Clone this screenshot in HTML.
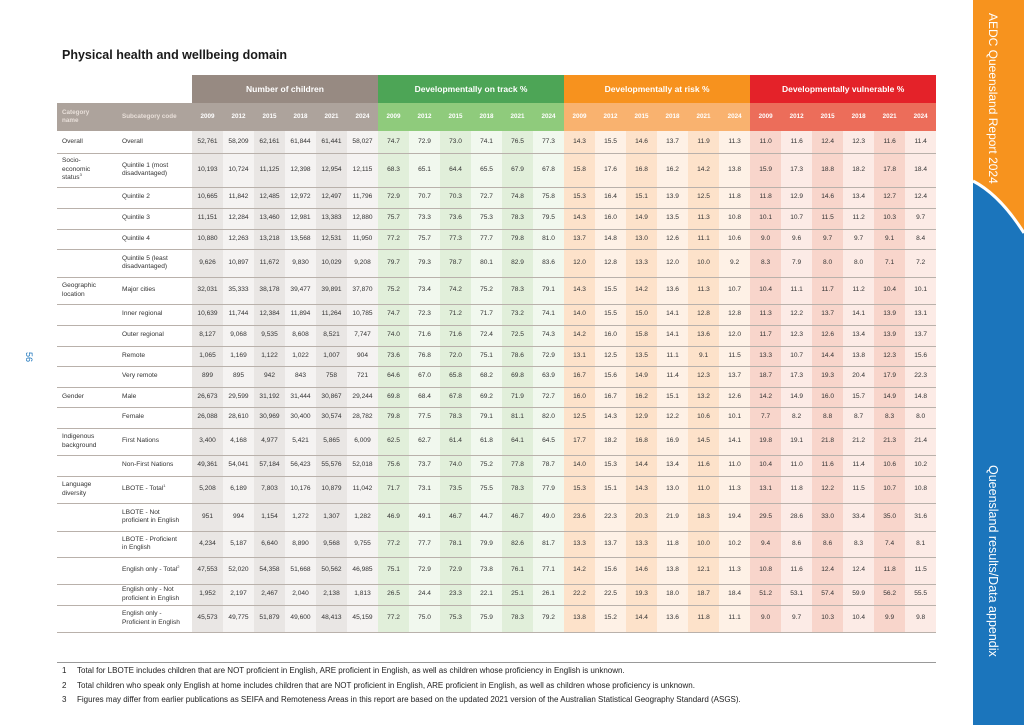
<!DOCTYPE html>
<html><head><meta charset="utf-8"><style>
body{margin:0;width:1024px;height:725px;background:#fff;position:relative;overflow:hidden;font-family:"Liberation Sans",Arial,sans-serif;color:#333}
.title{position:absolute;left:62px;top:48px;font-size:12.5px;font-weight:bold;color:#1a1a1a}
table{position:absolute;left:57px;top:75px;border-collapse:collapse;table-layout:fixed;width:879px}
td{padding:0;font-size:6.6px;text-align:center;border-bottom:1px solid #b9b1ab;vertical-align:middle;line-height:8.5px}
sup{font-size:4px;line-height:0;vertical-align:3px}
td.c{text-align:left;padding-left:5px}
td.s{text-align:left;padding-left:5px}
tr.h1 td{height:28px;border:none;color:#fff;font-weight:bold;font-size:8.5px}
tr.h2 td{height:28px;border:none;color:#fff;font-weight:bold;font-size:6.3px}
tr.h2 td.c,tr.h2 td.s{color:#e8dfd9}
.n0{background:#e9e6e4}.n1{background:#f5f3f2}
.g0{background:#e1efda}.g1{background:#f1f8ee}
.o0{background:#fde2ca}.o1{background:#fef1e6}
.r0{background:#f8d5cb}.r1{background:#fcebe6}
.hn{background:#978a82}.hg{background:#4da556}.ho{background:#f7921e}.hr{background:#e42229}
.sn{background:#ada39c}.sg{background:#8fcb7c}.so{background:#f9b26f}.sr{background:#ec6d5a}
.fn{position:absolute;left:62px;font-size:8px;color:#222}
.fn span{display:inline-block;width:15px}
</style></head><body>
<div class="title">Physical health and wellbeing domain</div>
<div style="position:absolute;top:352px;font-size:9px;color:#1c75bc;transform:rotate(90deg);transform-origin:left top;left:34px">56</div>
<table>
<colgroup><col style="width:60px"><col style="width:75px">
<col class="n0" style="width:31px"><col class="n1" style="width:31px"><col class="n0" style="width:31px"><col class="n1" style="width:31px"><col class="n0" style="width:31px"><col class="n1" style="width:31px">
<col class="g0" style="width:31px"><col class="g1" style="width:31px"><col class="g0" style="width:31px"><col class="g1" style="width:31px"><col class="g0" style="width:31px"><col class="g1" style="width:31px">
<col class="o0" style="width:31px"><col class="o1" style="width:31px"><col class="o0" style="width:31px"><col class="o1" style="width:31px"><col class="o0" style="width:31px"><col class="o1" style="width:31px">
<col class="r0" style="width:31px"><col class="r1" style="width:31px"><col class="r0" style="width:31px"><col class="r1" style="width:31px"><col class="r0" style="width:31px"><col class="r1" style="width:31px">
</colgroup>
<tr class="h1"><td style="background:#fff"></td><td style="background:#fff"></td><td colspan="6" class="hn">Number of children</td><td colspan="6" class="hg">Developmentally on track %</td><td colspan="6" class="ho">Developmentally at risk %</td><td colspan="6" class="hr">Developmentally vulnerable %</td></tr>
<tr class="h2"><td class="c sn">Category<br>name</td><td class="s sn">Subcategory code</td>
<td class="sn">2009</td><td class="sn">2012</td><td class="sn">2015</td><td class="sn">2018</td><td class="sn">2021</td><td class="sn">2024</td>
<td class="sg">2009</td><td class="sg">2012</td><td class="sg">2015</td><td class="sg">2018</td><td class="sg">2021</td><td class="sg">2024</td>
<td class="so">2009</td><td class="so">2012</td><td class="so">2015</td><td class="so">2018</td><td class="so">2021</td><td class="so">2024</td>
<td class="sr">2009</td><td class="sr">2012</td><td class="sr">2015</td><td class="sr">2018</td><td class="sr">2021</td><td class="sr">2024</td></tr>
<tr style="height:22px"><td class="c">Overall</td><td class="s">Overall</td><td>52,761</td><td>58,209</td><td>62,161</td><td>61,844</td><td>61,441</td><td>58,027</td><td>74.7</td><td>72.9</td><td>73.0</td><td>74.1</td><td>76.5</td><td>77.3</td><td>14.3</td><td>15.5</td><td>14.6</td><td>13.7</td><td>11.9</td><td>11.3</td><td>11.0</td><td>11.6</td><td>12.4</td><td>12.3</td><td>11.6</td><td>11.4</td></tr>
<tr style="height:34px"><td class="c">Socio-<br>economic<br>status<sup>3</sup></td><td class="s">Quintile 1 (most<br>disadvantaged)</td><td>10,193</td><td>10,724</td><td>11,125</td><td>12,398</td><td>12,954</td><td>12,115</td><td>68.3</td><td>65.1</td><td>64.4</td><td>65.5</td><td>67.9</td><td>67.8</td><td>15.8</td><td>17.6</td><td>16.8</td><td>16.2</td><td>14.2</td><td>13.8</td><td>15.9</td><td>17.3</td><td>18.8</td><td>18.2</td><td>17.8</td><td>18.4</td></tr>
<tr style="height:21px"><td class="c"></td><td class="s">Quintile 2</td><td>10,665</td><td>11,842</td><td>12,485</td><td>12,972</td><td>12,497</td><td>11,796</td><td>72.9</td><td>70.7</td><td>70.3</td><td>72.7</td><td>74.8</td><td>75.8</td><td>15.3</td><td>16.4</td><td>15.1</td><td>13.9</td><td>12.5</td><td>11.8</td><td>11.8</td><td>12.9</td><td>14.6</td><td>13.4</td><td>12.7</td><td>12.4</td></tr>
<tr style="height:21px"><td class="c"></td><td class="s">Quintile 3</td><td>11,151</td><td>12,284</td><td>13,460</td><td>12,981</td><td>13,383</td><td>12,880</td><td>75.7</td><td>73.3</td><td>73.6</td><td>75.3</td><td>78.3</td><td>79.5</td><td>14.3</td><td>16.0</td><td>14.9</td><td>13.5</td><td>11.3</td><td>10.8</td><td>10.1</td><td>10.7</td><td>11.5</td><td>11.2</td><td>10.3</td><td>9.7</td></tr>
<tr style="height:20px"><td class="c"></td><td class="s">Quintile 4</td><td>10,880</td><td>12,263</td><td>13,218</td><td>13,568</td><td>12,531</td><td>11,950</td><td>77.2</td><td>75.7</td><td>77.3</td><td>77.7</td><td>79.8</td><td>81.0</td><td>13.7</td><td>14.8</td><td>13.0</td><td>12.6</td><td>11.1</td><td>10.6</td><td>9.0</td><td>9.6</td><td>9.7</td><td>9.7</td><td>9.1</td><td>8.4</td></tr>
<tr style="height:28px"><td class="c"></td><td class="s">Quintile 5 (least<br>disadvantaged)</td><td>9,626</td><td>10,897</td><td>11,672</td><td>9,830</td><td>10,029</td><td>9,208</td><td>79.7</td><td>79.3</td><td>78.7</td><td>80.1</td><td>82.9</td><td>83.6</td><td>12.0</td><td>12.8</td><td>13.3</td><td>12.0</td><td>10.0</td><td>9.2</td><td>8.3</td><td>7.9</td><td>8.0</td><td>8.0</td><td>7.1</td><td>7.2</td></tr>
<tr style="height:27px"><td class="c">Geographic<br>location</td><td class="s">Major cities</td><td>32,031</td><td>35,333</td><td>38,178</td><td>39,477</td><td>39,891</td><td>37,870</td><td>75.2</td><td>73.4</td><td>74.2</td><td>75.2</td><td>78.3</td><td>79.1</td><td>14.3</td><td>15.5</td><td>14.2</td><td>13.6</td><td>11.3</td><td>10.7</td><td>10.4</td><td>11.1</td><td>11.7</td><td>11.2</td><td>10.4</td><td>10.1</td></tr>
<tr style="height:21px"><td class="c"></td><td class="s">Inner regional</td><td>10,639</td><td>11,744</td><td>12,384</td><td>11,894</td><td>11,264</td><td>10,785</td><td>74.7</td><td>72.3</td><td>71.2</td><td>71.7</td><td>73.2</td><td>74.1</td><td>14.0</td><td>15.5</td><td>15.0</td><td>14.1</td><td>12.8</td><td>12.8</td><td>11.3</td><td>12.2</td><td>13.7</td><td>14.1</td><td>13.9</td><td>13.1</td></tr>
<tr style="height:21px"><td class="c"></td><td class="s">Outer regional</td><td>8,127</td><td>9,068</td><td>9,535</td><td>8,608</td><td>8,521</td><td>7,747</td><td>74.0</td><td>71.6</td><td>71.6</td><td>72.4</td><td>72.5</td><td>74.3</td><td>14.2</td><td>16.0</td><td>15.8</td><td>14.1</td><td>13.6</td><td>12.0</td><td>11.7</td><td>12.3</td><td>12.6</td><td>13.4</td><td>13.9</td><td>13.7</td></tr>
<tr style="height:20px"><td class="c"></td><td class="s">Remote</td><td>1,065</td><td>1,169</td><td>1,122</td><td>1,022</td><td>1,007</td><td>904</td><td>73.6</td><td>76.8</td><td>72.0</td><td>75.1</td><td>78.6</td><td>72.9</td><td>13.1</td><td>12.5</td><td>13.5</td><td>11.1</td><td>9.1</td><td>11.5</td><td>13.3</td><td>10.7</td><td>14.4</td><td>13.8</td><td>12.3</td><td>15.6</td></tr>
<tr style="height:21px"><td class="c"></td><td class="s">Very remote</td><td>899</td><td>895</td><td>942</td><td>843</td><td>758</td><td>721</td><td>64.6</td><td>67.0</td><td>65.8</td><td>68.2</td><td>69.8</td><td>63.9</td><td>16.7</td><td>15.6</td><td>14.9</td><td>11.4</td><td>12.3</td><td>13.7</td><td>18.7</td><td>17.3</td><td>19.3</td><td>20.4</td><td>17.9</td><td>22.3</td></tr>
<tr style="height:20px"><td class="c">Gender</td><td class="s">Male</td><td>26,673</td><td>29,599</td><td>31,192</td><td>31,444</td><td>30,867</td><td>29,244</td><td>69.8</td><td>68.4</td><td>67.8</td><td>69.2</td><td>71.9</td><td>72.7</td><td>16.0</td><td>16.7</td><td>16.2</td><td>15.1</td><td>13.2</td><td>12.6</td><td>14.2</td><td>14.9</td><td>16.0</td><td>15.7</td><td>14.9</td><td>14.8</td></tr>
<tr style="height:21px"><td class="c"></td><td class="s">Female</td><td>26,088</td><td>28,610</td><td>30,969</td><td>30,400</td><td>30,574</td><td>28,782</td><td>79.8</td><td>77.5</td><td>78.3</td><td>79.1</td><td>81.1</td><td>82.0</td><td>12.5</td><td>14.3</td><td>12.9</td><td>12.2</td><td>10.6</td><td>10.1</td><td>7.7</td><td>8.2</td><td>8.8</td><td>8.7</td><td>8.3</td><td>8.0</td></tr>
<tr style="height:27px"><td class="c">Indigenous<br>background</td><td class="s">First Nations</td><td>3,400</td><td>4,168</td><td>4,977</td><td>5,421</td><td>5,865</td><td>6,009</td><td>62.5</td><td>62.7</td><td>61.4</td><td>61.8</td><td>64.1</td><td>64.5</td><td>17.7</td><td>18.2</td><td>16.8</td><td>16.9</td><td>14.5</td><td>14.1</td><td>19.8</td><td>19.1</td><td>21.8</td><td>21.2</td><td>21.3</td><td>21.4</td></tr>
<tr style="height:21px"><td class="c"></td><td class="s">Non-First Nations</td><td>49,361</td><td>54,041</td><td>57,184</td><td>56,423</td><td>55,576</td><td>52,018</td><td>75.6</td><td>73.7</td><td>74.0</td><td>75.2</td><td>77.8</td><td>78.7</td><td>14.0</td><td>15.3</td><td>14.4</td><td>13.4</td><td>11.6</td><td>11.0</td><td>10.4</td><td>11.0</td><td>11.6</td><td>11.4</td><td>10.6</td><td>10.2</td></tr>
<tr style="height:27px"><td class="c">Language<br>diversity</td><td class="s">LBOTE - Total<sup>1</sup></td><td>5,208</td><td>6,189</td><td>7,803</td><td>10,176</td><td>10,879</td><td>11,042</td><td>71.7</td><td>73.1</td><td>73.5</td><td>75.5</td><td>78.3</td><td>77.9</td><td>15.3</td><td>15.1</td><td>14.3</td><td>13.0</td><td>11.0</td><td>11.3</td><td>13.1</td><td>11.8</td><td>12.2</td><td>11.5</td><td>10.7</td><td>10.8</td></tr>
<tr style="height:28px"><td class="c"></td><td class="s">LBOTE - Not<br>proficient in English</td><td>951</td><td>994</td><td>1,154</td><td>1,272</td><td>1,307</td><td>1,282</td><td>46.9</td><td>49.1</td><td>46.7</td><td>44.7</td><td>46.7</td><td>49.0</td><td>23.6</td><td>22.3</td><td>20.3</td><td>21.9</td><td>18.3</td><td>19.4</td><td>29.5</td><td>28.6</td><td>33.0</td><td>33.4</td><td>35.0</td><td>31.6</td></tr>
<tr style="height:26px"><td class="c"></td><td class="s">LBOTE - Proficient<br>in English</td><td>4,234</td><td>5,187</td><td>6,640</td><td>8,890</td><td>9,568</td><td>9,755</td><td>77.2</td><td>77.7</td><td>78.1</td><td>79.9</td><td>82.6</td><td>81.7</td><td>13.3</td><td>13.7</td><td>13.3</td><td>11.8</td><td>10.0</td><td>10.2</td><td>9.4</td><td>8.6</td><td>8.6</td><td>8.3</td><td>7.4</td><td>8.1</td></tr>
<tr style="height:27px"><td class="c"></td><td class="s">English only - Total<sup>2</sup></td><td>47,553</td><td>52,020</td><td>54,358</td><td>51,668</td><td>50,562</td><td>46,985</td><td>75.1</td><td>72.9</td><td>72.9</td><td>73.8</td><td>76.1</td><td>77.1</td><td>14.2</td><td>15.6</td><td>14.6</td><td>13.8</td><td>12.1</td><td>11.3</td><td>10.8</td><td>11.6</td><td>12.4</td><td>12.4</td><td>11.8</td><td>11.5</td></tr>
<tr style="height:21px"><td class="c"></td><td class="s">English only - Not<br>proficient in English</td><td>1,952</td><td>2,197</td><td>2,467</td><td>2,040</td><td>2,138</td><td>1,813</td><td>26.5</td><td>24.4</td><td>23.3</td><td>22.1</td><td>25.1</td><td>26.1</td><td>22.2</td><td>22.5</td><td>19.3</td><td>18.0</td><td>18.7</td><td>18.4</td><td>51.2</td><td>53.1</td><td>57.4</td><td>59.9</td><td>56.2</td><td>55.5</td></tr>
<tr style="height:27px"><td class="c"></td><td class="s">English only -<br>Proficient in English</td><td>45,573</td><td>49,775</td><td>51,879</td><td>49,600</td><td>48,413</td><td>45,159</td><td>77.2</td><td>75.0</td><td>75.3</td><td>75.9</td><td>78.3</td><td>79.2</td><td>13.8</td><td>15.2</td><td>14.4</td><td>13.6</td><td>11.8</td><td>11.1</td><td>9.0</td><td>9.7</td><td>10.3</td><td>10.4</td><td>9.9</td><td>9.8</td></tr>
</table>
<div style="position:absolute;left:57px;top:662px;width:879px;border-top:1px solid #999"></div>
<div class="fn" style="top:666px"><span>1</span>Total for LBOTE includes children that are NOT proficient in English, ARE proficient in English, as well as children whose proficiency in English is unknown.</div>
<div class="fn" style="top:681px"><span>2</span>Total children who speak only English at home includes children that are NOT proficient in English, ARE proficient in English, as well as children whose proficiency is unknown.</div>
<div class="fn" style="top:695px"><span>3</span>Figures may differ from earlier publications as SEIFA and Remoteness Areas in this report are based on the updated 2021 version of the Australian Statistical Geography Standard (ASGS).</div>
<svg style="position:absolute;left:0;top:0" width="1024" height="725">
<rect x="973" y="0" width="51" height="725" fill="#f7931e"/>
<path d="M973,181 Q1000,195 1024,233 L1024,725 L973,725 Z" fill="#1b75bc"/>
<path d="M973,181 Q1000,195 1024,233" stroke="#fff" stroke-width="3" fill="none"/>
</svg>
<div style="position:absolute;left:986px;top:13px;writing-mode:vertical-rl;font-size:12px;color:#fff">AEDC Queensland Report 2024</div>
<div style="position:absolute;left:986px;top:465px;writing-mode:vertical-rl;font-size:12.5px;color:#fff">Queensland results/Data appendix</div>
</body></html>
